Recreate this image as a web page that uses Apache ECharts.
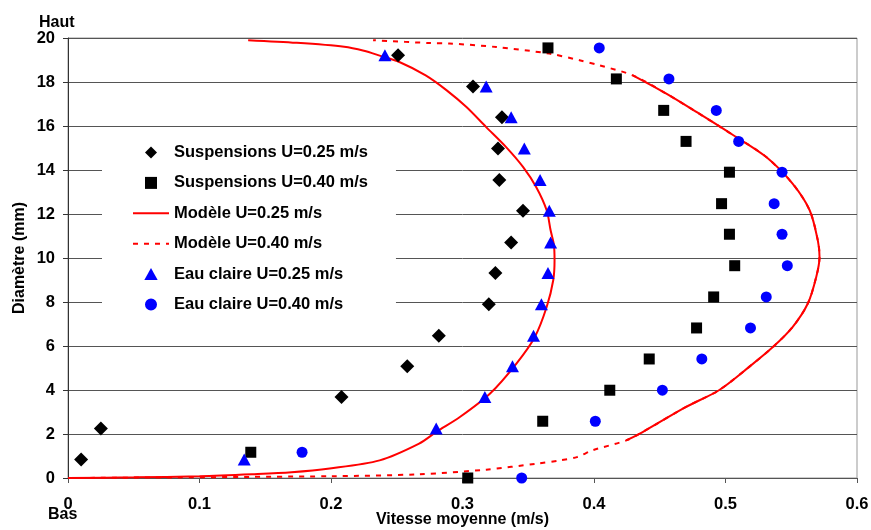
<!DOCTYPE html>
<html>
<head>
<meta charset="utf-8">
<script src="https://cdn.jsdelivr.net/npm/echarts@6/dist/echarts.min.js"></script>
<style>
  html, body { margin: 0; padding: 0; background: #fff; }
  #chart { width: 871px; height: 530px; }
</style>
</head>
<body>
<div id="chart"></div>
<script>
// diamètre (mm) des points de mesure
const depthsA = [0.84, 2.25, 3.68, 5.08, 6.47, 7.90, 9.32, 10.71, 12.15, 13.55, 14.98, 16.40, 17.80, 19.22];
const depthsB = [0, 1.17, 2.58, 3.99, 5.41, 6.82, 8.23, 9.65, 11.08, 12.47, 13.90, 15.30, 16.71, 18.14, 19.55];

// vitesses mesurées (m/s)
const suspension025 = [0.010, 0.025, 0.208, 0.258, 0.282, 0.320, 0.325, 0.337, 0.346, 0.328, 0.327, 0.330, 0.308, 0.251];
const eauClaire025 = [0.134, 0.280, 0.317, 0.338, 0.354, 0.360, 0.365, 0.367, 0.366, 0.359, 0.347, 0.337, 0.318, 0.241];
const suspension040 = [0.304, 0.139, 0.361, 0.412, 0.442, 0.478, 0.491, 0.507, 0.503, 0.497, 0.503, 0.470, 0.453, 0.417, 0.365];
const eauClaire040 = [0.345, 0.178, 0.401, 0.452, 0.482, 0.519, 0.531, 0.547, 0.543, 0.537, 0.543, 0.510, 0.493, 0.457, 0.404];

// profils du modèle : vitesse / diamètre
const modele025V = [0, 0.05, 0.10, 0.14, 0.17, 0.199, 0.237, 0.267, 0.280, 0.298, 0.321, 0.341, 0.355, 0.364, 0.369, 0.370, 0.3695, 0.367, 0.364, 0.356, 0.346, 0.333, 0.318, 0.303, 0.288, 0.272, 0.252, 0.237, 0.225, 0.210, 0.174, 0.137];
const modele025D = [0, 0.03, 0.08, 0.17, 0.26, 0.43, 0.80, 1.56, 2.09, 2.77, 3.84, 5.20, 6.41, 7.77, 8.99, 9.9, 10.6, 11.26, 12.17, 13.23, 14.14, 15.05, 15.95, 16.86, 17.62, 18.30, 18.91, 19.2, 19.42, 19.60, 19.78, 19.9];

const modele040V = [0, 0.199, 0.267, 0.318, 0.356, 0.374, 0.387, 0.399, 0.4245, 0.437, 0.470, 0.495, 0.518, 0.536, 0.551, 0.5626, 0.569, 0.5715, 0.5702, 0.564, 0.551, 0.531, 0.506, 0.480, 0.455, 0.4295, 0.404, 0.389, 0.366, 0.3256, 0.290, 0.275, 0.232];
const modele040D = [0, 0.08, 0.17, 0.38, 0.65, 0.80, 0.95, 1.26, 1.71, 2.09, 3.23, 3.99, 5.05, 5.95, 6.86, 7.93, 9.14, 10.05, 10.8, 12.17, 13.38, 14.59, 15.58, 16.56, 17.47, 18.30, 18.76, 18.99, 19.29, 19.59, 19.75, 19.77, 19.9];
// partie tracée en trait plein (entre ces diamètres)
const modele040Plein = [1.71, 18.30];

const xTickLabels = ['0', '0.1', '0.2', '0.3', '0.4', '0.5', '0.6'];
const yTickLabels = ['0', '2', '4', '6', '8', '10', '12', '14', '16', '18', '20'];

const font = 'Liberation Sans, Arial, sans-serif';

// icônes de légende (path pour garder les proportions)
const iconDiamond = 'path://M0,5L5,0L10,5L5,10Z';
const iconSquare = 'path://M0,0L10,0L10,10L0,10Z';
const iconTriangle = 'path://M5,0L10,9L0,9Z';
const iconCircle = 'path://M5,0A5,5,0,1,1,4.99,0Z';

function pairs(v, d) {
  return v.map((x, i) => [x, d[i]]);
}

const modele040 = pairs(modele040V, modele040D);
const modele040Mid = modele040.filter(p => p[1] >= modele040Plein[0] && p[1] <= modele040Plein[1]);

const chart = echarts.init(document.getElementById('chart'));
chart.setOption({
  animation: false,
  textStyle: { fontFamily: font },
  grid: {
    left: 68, right: 14, top: 38, bottom: 52,
    outerBoundsMode: 'none',
    show: true, borderColor: '#999', borderWidth: 1
  },
  legend: {
    orient: 'vertical',
    left: 102,
    top: 138,
    padding: [6, 28, 8, 30],
    backgroundColor: '#fff',
    itemWidth: 36,
    itemHeight: 12,
    itemGap: 13.4,
    symbolKeepAspect: true,
    textStyle: { fontFamily: font, fontSize: 16.5, fontWeight: 'bold', color: '#000' },
    data: [
      { name: 'Suspensions U=0.25 m/s', icon: iconDiamond },
      { name: 'Suspensions U=0.40 m/s', icon: iconSquare },
      { name: 'Modèle U=0.25 m/s', itemStyle: { opacity: 0 } },
      { name: 'Modèle U=0.40 m/s', itemStyle: { opacity: 0 } },
      { name: 'Eau claire U=0.25 m/s', icon: iconTriangle },
      { name: 'Eau claire U=0.40 m/s', icon: iconCircle }
    ]
  },
  xAxis: {
    type: 'value',
    min: 0,
    max: 0.6,
    interval: 0.1,
    name: 'Vitesse moyenne (m/s)',
    nameLocation: 'middle',
    nameGap: 34,
    nameMoveOverlap: false,
    nameTextStyle: { fontFamily: font, fontSize: 16, fontWeight: 'bold', color: '#000' },
    axisLine: { lineStyle: { color: '#555', width: 1 } },
    axisTick: { show: true, length: 5, inside: false, lineStyle: { color: '#555' } },
    axisLabel: {
      margin: 18,
      fontFamily: font, fontSize: 16.5, fontWeight: 'bold', color: '#000',
      formatter: v => xTickLabels[Math.round(v * 10)]
    },
    splitLine: { show: false }
  },
  yAxis: {
    type: 'value',
    min: 0,
    max: 20,
    interval: 2,
    name: 'Diamètre (mm)',
    nameLocation: 'middle',
    nameGap: 40,
    nameMoveOverlap: false,
    nameTextStyle: { fontFamily: font, fontSize: 16, fontWeight: 'bold', color: '#000' },
    axisLine: { show: true, lineStyle: { color: '#333', width: 1 } },
    axisTick: { show: true, length: 5, lineStyle: { color: '#333' } },
    axisLabel: {
      margin: 13,
      fontFamily: font, fontSize: 16.5, fontWeight: 'bold', color: '#000',
      formatter: v => yTickLabels[Math.round(v / 2)]
    },
    splitLine: { show: true, lineStyle: { color: '#555', width: 1 } }
  },
  graphic: [
    { type: 'text', left: 39, top: 15, style: { text: 'Haut', font: 'bold 16px ' + font, fill: '#000' } },
    { type: 'text', left: 48, top: 507, style: { text: 'Bas', font: 'bold 16px ' + font, fill: '#000' } }
  ],
  series: [
    {
      name: 'Modèle U=0.40 m/s',
      type: 'line',
      data: modele040,
      showSymbol: false,
      symbol: 'none',
      smooth: 0.3,
      lineStyle: { color: '#ff0000', width: 2, type: [5, 6] },
      itemStyle: { color: '#ff0000' },
      z: 2
    },
    {
      name: 'modele040plein',
      type: 'line',
      data: modele040Mid,
      showSymbol: false,
      symbol: 'none',
      smooth: 0.3,
      lineStyle: { color: '#ff0000', width: 2 },
      itemStyle: { color: '#ff0000' },
      z: 2
    },
    {
      name: 'Modèle U=0.25 m/s',
      type: 'line',
      data: pairs(modele025V, modele025D),
      showSymbol: false,
      symbol: 'none',
      smooth: 0.3,
      lineStyle: { color: '#ff0000', width: 2 },
      itemStyle: { color: '#ff0000' },
      z: 2
    },
    {
      name: 'Suspensions U=0.25 m/s',
      type: 'scatter',
      data: pairs(suspension025, depthsA),
      symbol: 'diamond',
      symbolSize: 14,
      itemStyle: { color: '#000', opacity: 1 },
      z: 3
    },
    {
      name: 'Suspensions U=0.40 m/s',
      type: 'scatter',
      data: pairs(suspension040, depthsB),
      symbol: 'rect',
      symbolSize: 11,
      itemStyle: { color: '#000', opacity: 1 },
      z: 3
    },
    {
      name: 'Eau claire U=0.25 m/s',
      type: 'scatter',
      data: pairs(eauClaire025, depthsA),
      symbol: 'triangle',
      symbolSize: [13, 12],
      itemStyle: { color: '#0000ff', opacity: 1 },
      z: 3
    },
    {
      name: 'Eau claire U=0.40 m/s',
      type: 'scatter',
      data: pairs(eauClaire040, depthsB),
      symbol: 'circle',
      symbolSize: 11,
      itemStyle: { color: '#0000ff', opacity: 1 },
      z: 3
    }
  ]
});
</script>
</body>
</html>
